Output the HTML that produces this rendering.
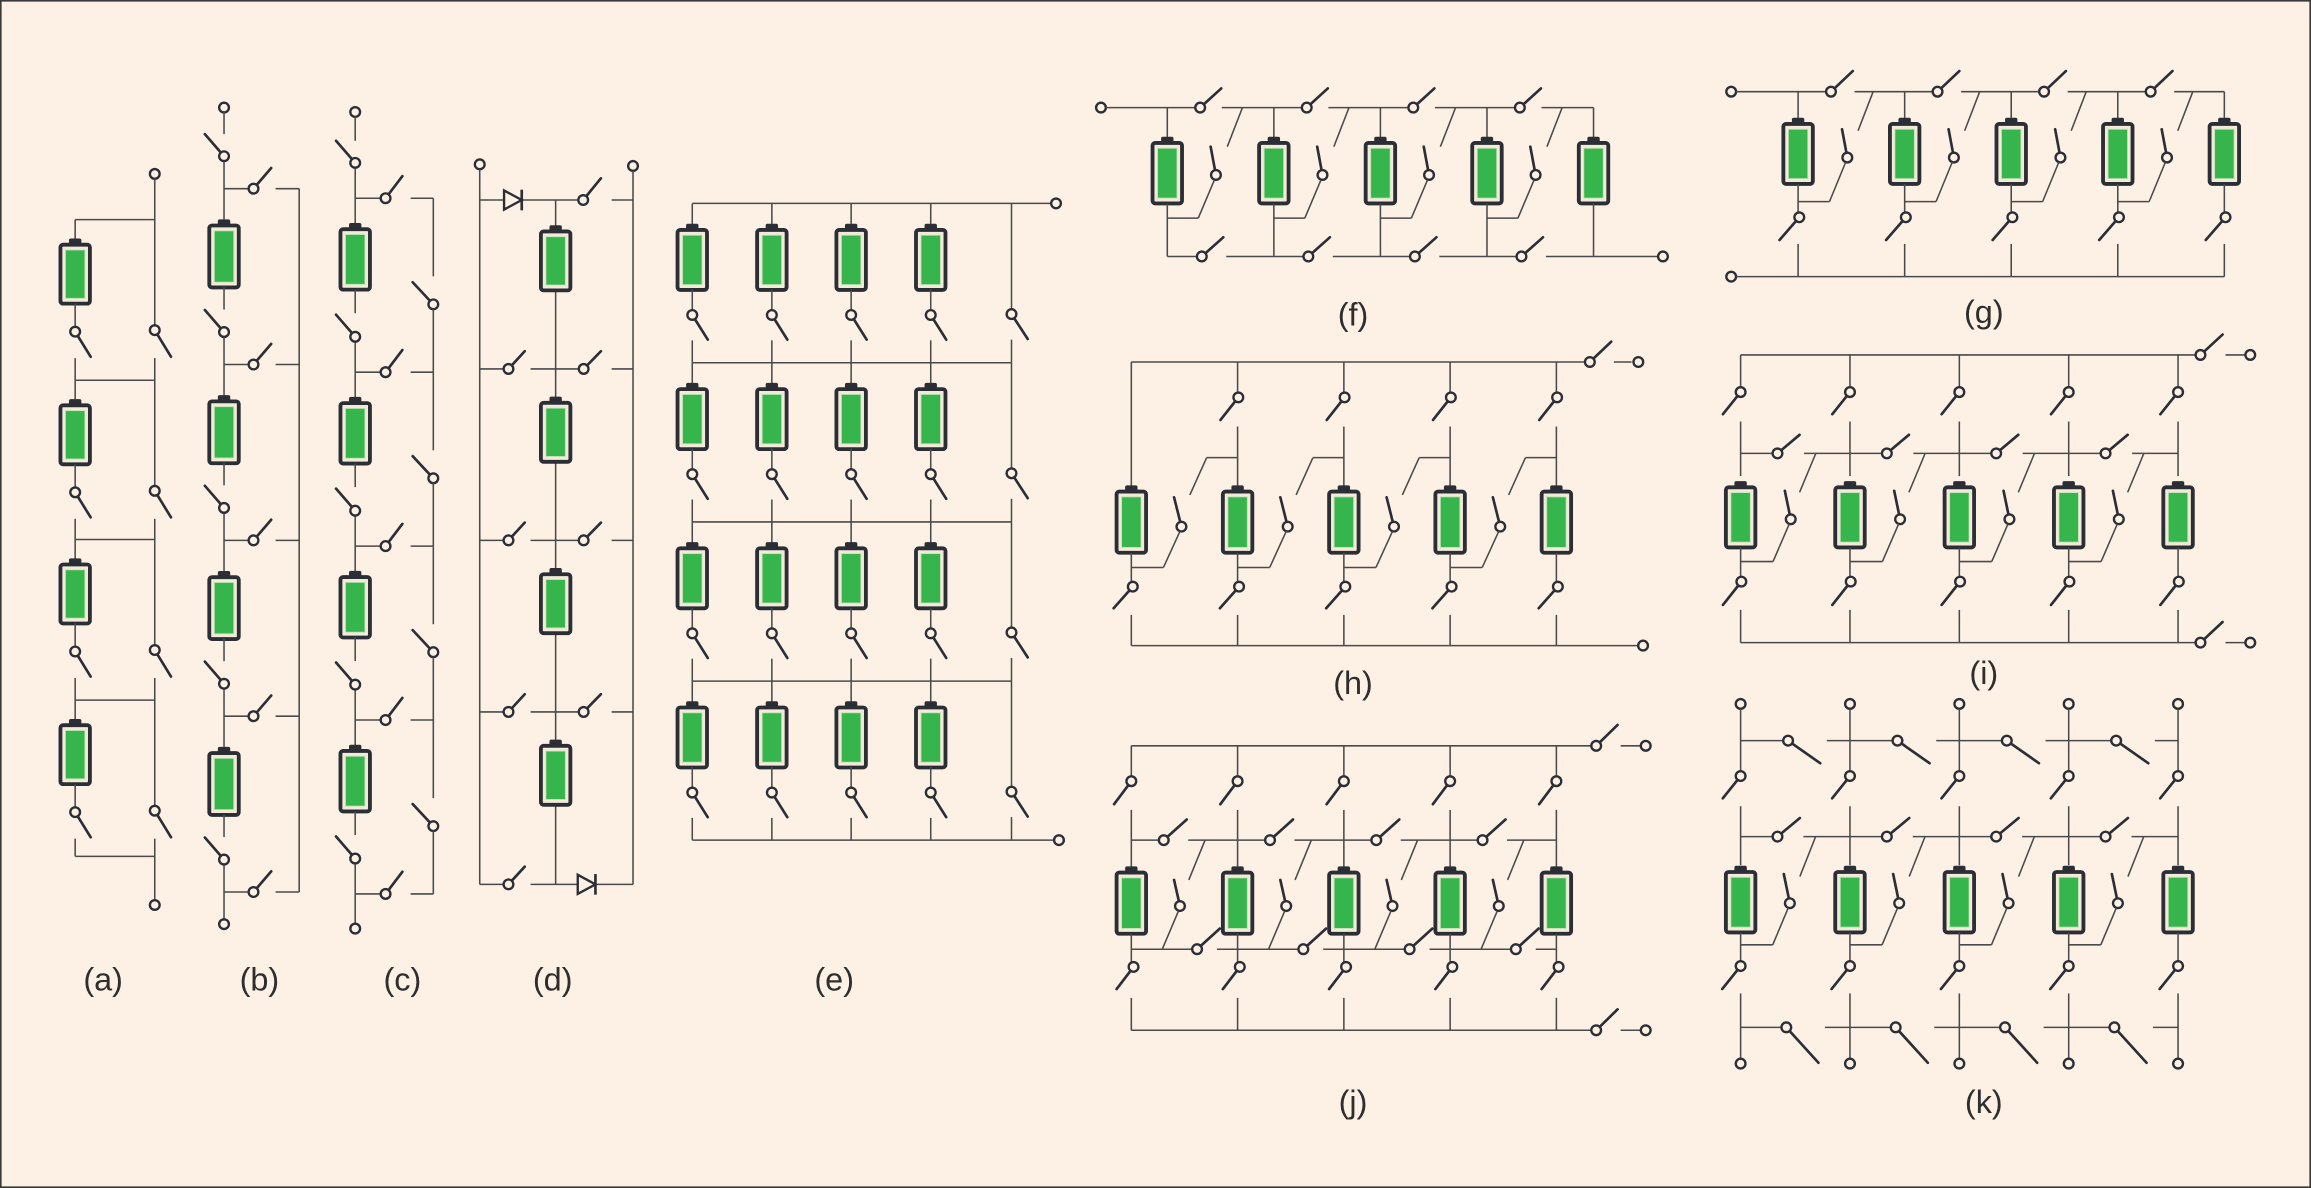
<!DOCTYPE html>
<html><head><meta charset="utf-8"><title>Battery reconfiguration topologies</title>
<style>
html,body{margin:0;padding:0;background:#fdf0e5;}
#wrap{width:2311px;height:1188px;position:relative;overflow:hidden;}
svg{display:block;}
text{font-family:"Liberation Sans",sans-serif;fill:#2e2e2e;}
</style></head>
<body>
<div id="wrap">
<svg id="fig" width="2311" height="1188" viewBox="0 0 1568 806" preserveAspectRatio="none">
<rect x="0.5" y="0.5" width="1567" height="805" fill="#fdf0e5" stroke="#3a3a3a" stroke-width="1.2"/>
<g id="pa"></g>
<g id="pb"></g>
<g id="pc"></g>
<g id="pd"></g>
<g id="pe"></g>
<g id="pf"></g>
<g id="pg"></g>
<g id="ph"></g>
<g id="pi"></g>
<g id="pj"></g>
<g id="pk"></g>
<g font-size="22" text-anchor="middle">
<text x="70" y="672">(a)</text>
<text x="176" y="672">(b)</text>
<text x="273" y="672">(c)</text>
<text x="375" y="672">(d)</text>
<text x="566" y="672">(e)</text>
<text x="918" y="221">(f)</text>
<text x="1346" y="219">(g)</text>
<text x="918" y="471">(h)</text>
<text x="1346" y="464">(i)</text>
<text x="918" y="755">(j)</text>
<text x="1346" y="755">(k)</text>
</g>
</svg>
</div>
<script>
const aRows=[186,295,403,512];
const bRows=[174,293.3,412.6,531.9,651.2];
const cRows=[176.5,294.5,412.5,530.5,648.5];
const dRows=[177,293.3,409.6,526];
const eCols=[469.7,523.7,577.5,631.5];
const eRows=[176.4,284.4,392.4,500.4];
const fCols=[792,864.3,936.6,1008.9,1081.2];
const gCols=[1220,1292.3,1364.6,1436.9,1509.2];
const hCols=[767.6,839.7,911.8,983.9,1056];
const kCols=[1181,1255.2,1329.4,1403.6,1477.8];

const svg=document.getElementById('fig');
let G=null;
function mk(tag,attrs,name){
  const e=document.createElementNS(svg.namespaceURI,tag);
  for(const k in attrs){e.setAttribute(k,attrs[k]);}
  
  
  G.appendChild(e);return e;
}
function L(x1,y1,x2,y2){mk('line',{x1:x1,y1:y1,x2:x2,y2:y2,stroke:'#4a4a4a','stroke-width':1.05},'wire');}
function T(x1,y1,x2,y2){mk('line',{x1:x1,y1:y1,x2:x2,y2:y2,stroke:'#2b2e35','stroke-width':1.8,'stroke-linecap':'round'},'switch-blade');}
function C(x,y){mk('circle',{cx:x,cy:y,r:3.3,fill:'#fdf0e5',stroke:'#2b2e35','stroke-width':1.6},'terminal');}
function S(x,y,ex,ey){T(x,y,ex,ey);C(x,y);}
function B(cx,top,h){
  mk('rect',{x:cx-4.2,y:top-4.2,width:8.4,height:6,rx:1.2,fill:'#2b2e35'},'battery-cap');
  mk('rect',{x:cx-10,y:top,width:20,height:h,rx:1.8,fill:'#f4ead9',stroke:'#2b2e35','stroke-width':2.6},'battery');
  mk('rect',{x:cx-6.6,y:top+3.6,width:13.2,height:h-7.2,fill:'#35b54b',stroke:'#bfe3b4','stroke-width':0.6},'battery-charge');
}
function Dio(x,y){
  mk('polygon',{points:(x-6)+','+(y-6.5)+' '+(x-6)+','+(y+6.5)+' '+(x+6)+','+y,fill:'#fdf0e5',stroke:'#2b2e35','stroke-width':1.6},'diode');
  mk('line',{x1:x+6,y1:y-7,x2:x+6,y2:y+7,stroke:'#2b2e35','stroke-width':1.8},'diode-bar');
}

/* (a) */
G=document.getElementById('pa');
(function(){const x=51,R=105;
 const hs=aRows.map(c=>c-37);hs.push(581);
 C(R,118);L(R,121,R,aRows[0]+35);
 aRows.forEach((cy,i)=>{
  L(x,hs[i],R,hs[i]);L(x,hs[i],x,cy-24);B(x,cy-20,40);
  L(x,cy+20,x,cy+36);S(x,cy+39,x+10.5,cy+56);L(x,cy+57,x,hs[i+1]);
  S(R,cy+38,R+11,cy+56);
  L(R,cy+57,R,i<3?aRows[i+1]+35:611);
 });
 L(x,581,R,581);C(R,614);
})();

/* (b) */
G=document.getElementById('pb');
(function(){const x=152,R=203;
 C(x,73);L(x,76,x,bRows[0]-83);
 L(R,bRows[0]-46,R,bRows[4]-46);
 bRows.forEach((cy,i)=>{
  L(x,cy-65,x,i<4?cy-25:624);
  S(x,cy-68,x-13,cy-83);
  L(x,cy-46,169,cy-46);S(172,cy-46,184,cy-60);L(187,cy-46,R,cy-46);
  if(i<4){B(x,cy-21,42);L(x,cy+21,x,cy+36);}
 });
 C(x,627);
})();

/* (c) */
G=document.getElementById('pc');
(function(){const x=241,R=294;
 C(x,76);L(x,79,x,cRows[0]-81);
 cRows.forEach((cy,i)=>{
  L(x,cy-63,x,i<4?cy-25:627);
  S(x,cy-66,x-13,cy-81);
  L(x,cy-42,258.5,cy-42);S(261.6,cy-42,273,cy-57);L(278.6,cy-42,R,cy-42);
  if(i<4){B(x,cy-21,41);L(x,cy+20,x,cy+36);
   L(R,cy-42,R,cy+11);S(R,cy+30,R-14,cy+15);L(R,cy+33,R,cRows[i+1]-42);}
 });
 C(x,630);
})();

/* (d) */
G=document.getElementById('pd');
(function(){const bx=377,lx=325.5,rx=429.5;
 C(lx,111.5);L(lx,114.8,lx,600);C(rx,112.6);L(rx,115.9,rx,600);
 L(bx,135.7,bx,600);
 L(lx,135.7,364,135.7);Dio(348,135.7);L(364,135.7,392.5,135.7);S(395.7,135.7,407.7,121);L(415,135.7,rx,135.7);
 for(let j=1;j<4;j++){const y=dRows[j]-43;
  L(lx,y,342,y);S(345,y,356,y-12);L(360,y,393,y);S(396,y,407.7,y-12);L(415,y,rx,y);}
 dRows.forEach(cy=>{B(bx,cy-20,40);});
 L(lx,600,342,600);S(345,600,356,588);L(360,600,rx,600);Dio(398,600);
})();

/* (e) */
G=document.getElementById('pe');
(function(){const R=686.3;
 const rails=eRows.map(c=>c-38.3);rails.push(570);
 L(eCols[0],138,713,138);C(716.5,138);
 for(let r=1;r<4;r++){L(eCols[0],rails[r],R,rails[r]);}
 L(eCols[0],570,715,570);C(718.5,570);
 eRows.forEach((cy,r)=>{
  eCols.forEach(x=>{
   L(x,rails[r],x,cy-24);B(x,cy-20.4,40.7);L(x,cy+20,x,cy+34);S(x,cy+37.3,x+10.5,cy+54);L(x,cy+54.5,x,rails[r+1]);
  });
  L(R,rails[r],R,cy+34);S(R,cy+36.7,R+11,cy+53.6);L(R,cy+54,R,rails[r+1]);
 });
})();

/* (f) */
G=document.getElementById('pf');
(function(){const top=73,bot=174;
 C(747,top);
 fCols.forEach((bx,i)=>{
  const st=i==0?750.3:fCols[i-1]+37;
  const bs=i==0?bx:fCols[i-1]+40;
  if(i<4){L(st,top,bx+19,top);S(bx+22.3,top,bx+36.6,60);}else{L(st,top,bx,top);}
  L(bx,top,bx,93);B(bx,97,41);L(bx,138,bx,bot);
  if(i<4){L(bs,bot,bx+20.2,bot);S(bx+23.4,bot,bx+38,161);}else{L(bs,bot,1125,bot);C(1128.3,bot);}
  if(i<4){S(bx+33,118.7,bx+29.4,99.5);L(bx+32,122,bx+21,148);L(bx+21,148,bx,148);L(bx+51,top,bx+40.7,99.5);}
 });
})();

/* (g) */
G=document.getElementById('pg');
(function(){const top=62.2,bot=187.7;
 C(1174.6,top);C(1174.6,bot);L(1178,bot,gCols[4],bot);
 gCols.forEach((bx,i)=>{
  const st=i==0?1178:gCols[i-1]+38.3;
  if(i<4){L(st,top,bx+19,top);S(bx+22.3,top,bx+37.1,48.2);}else{L(st,top,bx,top);}
  L(bx,top,bx,80);B(bx,84.1,40.7);L(bx,124.8,bx,144.2);S(bx+0.8,147.4,bx-12.6,162.8);L(bx,165.5,bx,bot);
  if(i<4){S(bx+33.4,106.9,bx+29.8,87.7);L(bx+32.3,110,bx+21.3,136.8);L(bx+21.3,136.8,bx,136.8);L(bx+50.9,top,bx+40.7,88.7);}
 });
})();

/* (h) */
G=document.getElementById('ph');
(function(){const top=245.6,bot=438;
 L(hCols[0],top,1075.4,top);S(1078.7,top,1093.2,231.8);L(1095,top,1107,top);C(1111.6,top);
 L(hCols[0],bot,1111.4,bot);C(1114.8,bot);
 hCols.forEach((bx,i)=>{
  if(i==0){L(bx,top,bx,330);}
  else{L(bx,top,bx,266.4);S(bx+0.5,269.6,bx-11.6,284.9);L(bx,289.4,bx,330);
   L(bx-21,310.5,bx,310.5);L(bx-21,310.5,bx-32.4,335.8);}
  B(bx,333.5,41.5);L(bx,375,bx,394.8);S(bx+1,398,bx-12,412.7);L(bx,417.2,bx,bot);
  if(i<4){S(bx+34,357.3,bx+29,337.4);L(bx+33,360.5,bx+21.8,385);L(bx+21.8,385,bx,385);}
 });
})();

/* (i) */
G=document.getElementById('pi');
(function(){const top=240.8,bot=436,mid=307.6;
 L(kCols[0],top,1490,top);S(1493,top,1508,227);L(1510,top,1523.5,top);C(1526.8,top);
 L(kCols[0],bot,1490,bot);S(1493,bot,1508,422);L(1510,bot,1523.5,bot);C(1526.8,bot);
 kCols.forEach((bx,i)=>{
  L(bx,top,bx,262.8);S(bx,266,bx-12,281);L(bx,286,bx,323);
  const st=i==0?bx:kCols[i-1]+43;
  if(i<4){L(st,mid,bx+21.8,mid);S(bx+25,mid,bx+40,295);}else{L(st,mid,bx,mid);}
  B(bx,330.6,40.8);L(bx,371.4,bx,391.4);S(bx+0.5,394.6,bx-12,410.4);L(bx,413.8,bx,bot);
  if(i<4){S(bx+34,352.3,bx+30,333);L(bx+33,355.5,bx+22,381);L(bx+22,381,bx,381);L(bx+51,mid,bx+40,334);}
 });
})();

/* (j) */
G=document.getElementById('pj');
(function(){const top=506,mid=570,low=644,bot=699;
 L(hCols[0],top,1079.8,top);S(1083,top,1097.5,491.8);L(1099.6,top,1113.5,top);C(1116.6,top);
 L(hCols[0],bot,1079.8,bot);S(1083,bot,1097.5,684.8);L(1099.6,bot,1113.5,bot);C(1116.6,bot);
 hCols.forEach((bx,i)=>{
  L(bx,top,bx,526.8);S(bx,530,bx-11.7,545.6);L(bx,549.5,bx,589);
  const st=i==0?bx:hCols[i-1]+38.6;
  if(i<4){L(st,mid,bx+18.8,mid);S(bx+22,mid,bx+37.6,556);}else{L(st,mid,bx,mid);}
  B(bx,592,41.5);L(bx,633.5,bx,652.8);S(bx+1.5,656,bx-10,671);L(bx,677,bx,bot);
  const ls=i==0?bx:bx-14;
  if(i<4){L(ls,low,bx+41.4,low);S(bx+44.6,low,bx+60,630);S(bx+33,614.7,bx+29,597);L(bx+32,618,bx+21,low);L(bx+50,mid,bx+39,597);}
  else{L(ls,low,bx,low);}
 });
})();

/* (k) */
G=document.getElementById('pk');
(function(){const h1=502.5,mid=567.6,h2=697;
 kCols.forEach((bx,i)=>{
  C(bx,477.6);L(bx,481,bx,523.3);S(bx,526.5,bx-12.1,541.6);L(bx,547,bx,587);
  const s1=i==0?bx:bx-15.7;
  if(i<4){L(s1,h1,bx+29,h1);S(bx+32.2,h1,bx+54,517.8);}else{L(s1,h1,bx,h1);}
  const st=i==0?bx:kCols[i-1]+42.6;
  if(i<4){L(st,mid,bx+21.8,mid);S(bx+25,mid,bx+40.2,555);}else{L(st,mid,bx,mid);}
  B(bx,591.6,41);L(bx,632.6,bx,652.2);S(bx,655.4,bx-12.5,671);L(bx,674,bx,718.4);C(bx,721.6);
  if(i<4){S(bx+33.4,612.8,bx+29.3,593);L(bx+32.3,616,bx+21.8,641);L(bx+21.8,641,bx,641);L(bx+50.9,mid,bx+40.2,594.7);}
  const s2=i==0?bx:bx-17;
  if(i<4){L(s2,h2,bx+27.8,h2);S(bx+31,h2,bx+52.8,721);}else{L(s2,h2,bx,h2);}
 });
})();
</script>
</body></html>
